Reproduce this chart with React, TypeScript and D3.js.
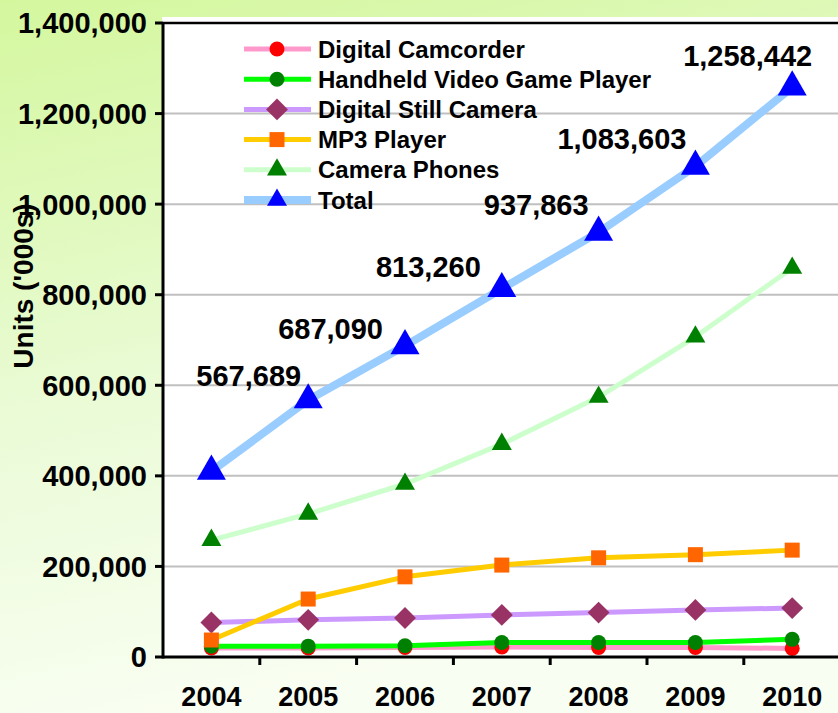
import React from "react";
import * as d3 from "d3";

const years = ["2004", "2005", "2006", "2007", "2008", "2009", "2010"];
const digitalCamcorder = [20000, 20000, 21000, 22000, 21000, 21000, 19000];
const handheldGame = [24000, 24000, 25000, 32000, 32000, 32000, 39000];
const digitalStillCamera = [76000, 82000, 86000, 93000, 98000, 104000, 108000];
const mp3Player = [37500, 128000, 177000, 203000, 219000, 226000, 236000];
const cameraPhones = [258000, 316000, 382000, 470000, 574000, 707000, 859000];
const total = [410000, 567689, 687090, 813260, 937863, 1083603, 1258442];
const totalLabels = ["", "567,689", "687,090", "813,260", "937,863", "1,083,603", "1,258,442"];
const yTicks = [0, 200000, 400000, 600000, 800000, 1000000, 1200000, 1400000];

// label nudges (styling, relative to marker)
const labelNudge: [number, number][] = [
  [0, 0], [-7, -14], [-22, -7], [-21, -12], [-10, -17], [-9, -17], [20, -21],
];

type Series = {
  name: string;
  values: number[];
  line: string;
  marker: string;
  shape: "circle" | "diamond" | "square" | "triangle" | "bigtriangle";
  lw: number;
};

const series: Series[] = [
  { name: "Digital Camcorder", values: digitalCamcorder, line: "#ff99cc", marker: "#ff0000", shape: "circle", lw: 5 },
  { name: "Handheld Video Game Player", values: handheldGame, line: "#00ff00", marker: "#008000", shape: "circle", lw: 5 },
  { name: "Digital Still Camera", values: digitalStillCamera, line: "#cc99ff", marker: "#993366", shape: "diamond", lw: 5 },
  { name: "MP3 Player", values: mp3Player, line: "#ffcc00", marker: "#ff6600", shape: "square", lw: 5 },
  { name: "Camera Phones", values: cameraPhones, line: "#ccffcc", marker: "#008000", shape: "triangle", lw: 5 },
  { name: "Total", values: total, line: "#99ccff", marker: "#0000ff", shape: "bigtriangle", lw: 8 },
];

const W = 838;
const H = 713;
const plotLeft = 163;
const plotTop = 23;
const plotBottom = 657;
const band = 96.8;

const x = d3.scaleBand<string>().domain(years).range([plotLeft, plotLeft + band * years.length]);
const y = d3.scaleLinear().domain([0, 1400000]).range([plotBottom, plotTop]);
const cx = (yr: string) => (x(yr) as number) + x.bandwidth() / 2;

const fmt = d3.format(",");
const FONT = "'Liberation Sans', Arial, sans-serif";

function markerPath(shape: Series["shape"]): string {
  const gen = d3.symbol();
  switch (shape) {
    case "circle":
      return gen.type(d3.symbolCircle).size(Math.PI * 7.5 * 7.5)() as string;
    case "diamond":
      return gen.type(d3.symbolSquare).size(15.5 * 15.5)() as string;
    case "square":
      return gen.type(d3.symbolSquare).size(15 * 15)() as string;
    case "triangle":
      return gen.type(d3.symbolTriangle).size(((20 * 20) * Math.sqrt(3)) / 4)() as string;
    case "bigtriangle":
      return gen.type(d3.symbolTriangle).size(((29 * 29) * Math.sqrt(3)) / 4)() as string;
  }
}

function Marker({ s, px, py }: { s: Series; px: number; py: number }) {
  const rot = s.shape === "diamond" ? " rotate(45)" : "";
  return <path d={markerPath(s.shape)} transform={`translate(${px},${py})${rot}`} fill={s.marker} />;
}

export default function App() {
  const line = d3
    .line<number>()
    .x((_, i) => cx(years[i]))
    .y((v) => y(v));

  const legendX1 = 244;
  const legendX2 = 311;
  const legendMx = 277;
  const legendY0 = 49;
  const legendStep = 30.2;

  return (
    <div style={{ position: "fixed", left: 0, top: 0 }}>
      <svg width={W} height={H} style={{ display: "block" }}>
        <defs>
          <linearGradient id="bg" x1="0" y1="0" x2="0.25" y2="1">
            <stop offset="0" stopColor="#d4f79e" />
            <stop offset="0.55" stopColor="#eafbd6" />
            <stop offset="1" stopColor="#f9fef2" />
          </linearGradient>
        </defs>
        <rect x={0} y={0} width={W} height={H} fill="url(#bg)" />
        <rect x={plotLeft - 1} y={17} width={W - plotLeft + 1} height={plotBottom - 17} fill="#ffffff" />

        {/* gridlines */}
        {yTicks.slice(1, -1).map((t) => (
          <line key={t} x1={plotLeft} x2={W} y1={y(t)} y2={y(t)} stroke="#c0c0c0" strokeWidth={2} />
        ))}
        <line x1={plotLeft} x2={W} y1={y(1400000)} y2={y(1400000)} stroke="#000" strokeWidth={2.5} />

        {/* series lines and markers */}
        {series.map((s) => (
          <g key={s.name}>
            <path d={line(s.values) as string} fill="none" stroke={s.line} strokeWidth={s.lw} strokeLinejoin="round" />
            {s.values.map((v, i) => (
              <Marker key={i} s={s} px={cx(years[i])} py={y(v)} />
            ))}
          </g>
        ))}

        {/* axes */}
        <line x1={plotLeft} x2={plotLeft} y1={plotTop} y2={plotBottom + 1.5} stroke="#000" strokeWidth={3} />
        <line x1={plotLeft} x2={W} y1={plotBottom} y2={plotBottom} stroke="#000" strokeWidth={3} />
        {yTicks.map((t) => (
          <g key={t}>
            <line x1={plotLeft - 8} x2={plotLeft} y1={y(t)} y2={y(t)} stroke="#000" strokeWidth={3} />
            <text
              x={147}
              y={y(t)}
              dy="0.36em"
              textAnchor="end"
              fontFamily={FONT}
              fontWeight="bold"
              fontSize={29}
              fill="#000"
            >
              {fmt(t)}
            </text>
          </g>
        ))}
        {years.map((yr) => (
          <g key={yr}>
            <line
              x1={(x(yr) as number) + band}
              x2={(x(yr) as number) + band}
              y1={plotBottom}
              y2={plotBottom + 8}
              stroke="#000"
              strokeWidth={3}
            />
            <text x={cx(yr)} y={706} textAnchor="middle" fontFamily={FONT} fontWeight="bold" fontSize={27} fill="#000">
              {yr}
            </text>
          </g>
        ))}
        <text
          transform={`translate(33,286) rotate(-90)`}
          textAnchor="middle"
          fontFamily={FONT}
          fontWeight="bold"
          fontSize={28}
          fill="#000"
        >
          Units ('000s)
        </text>

        {/* total data labels */}
        {total.map((v, i) =>
          totalLabels[i] ? (
            <text
              key={i}
              x={cx(years[i]) + labelNudge[i][0]}
              y={y(v) + labelNudge[i][1]}
              textAnchor="end"
              fontFamily={FONT}
              fontWeight="bold"
              fontSize={29}
              fill="#000"
            >
              {totalLabels[i]}
            </text>
          ) : null
        )}

        {/* legend */}
        {series.map((s, i) => {
          const ly = legendY0 + i * legendStep;
          return (
            <g key={s.name}>
              <line x1={legendX1} x2={legendX2} y1={ly} y2={ly} stroke={s.line} strokeWidth={s.lw} />
              <Marker s={s.shape === "bigtriangle" ? { ...s, shape: "triangle" } : s} px={legendMx} py={ly} />
              <text x={318} y={ly} dy="0.36em" fontFamily={FONT} fontWeight="bold" fontSize={24} fill="#000">
                {s.name}
              </text>
            </g>
          );
        })}
      </svg>
    </div>
  );
}
